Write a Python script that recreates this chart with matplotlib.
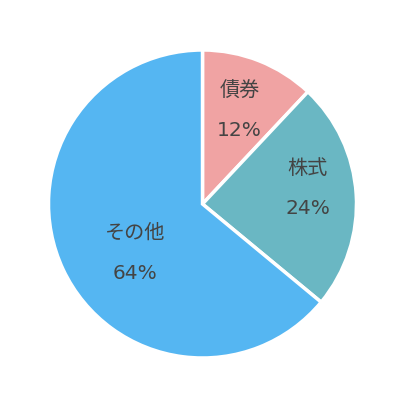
import numpy as np
import matplotlib
matplotlib.use("Agg")
import matplotlib.pyplot as plt

plt.rcParams['font.family'] = ['Noto Sans CJK JP', 'DejaVu Sans']

labels = ['債券', '株式', 'その他']
shares = [12, 24, 64]
colors = ['#F0A3A3', '#6AB7C3', '#55B6F2']

fig = plt.figure(figsize=(4.06, 4.13), dpi=100)
W, H = 406, 413
cx, cy, R = 202.5, 204, 154
ax = fig.add_axes([(cx - R) / W, (H - cy - R) / H, 2 * R / W, 2 * R / H])

wedges, _ = ax.pie(shares, colors=colors, startangle=90, counterclock=False,
                   wedgeprops=dict(edgecolor='white', linewidth=2.5))
ax.set_xlim(-1, 1)
ax.set_ylim(-1, 1)
ax.set_aspect('equal')
ax.axis('off')

# label placement: radius and angle nudge per wedge
label_r = [0.65, 0.69, 0.54]
angle_shift = [0, 5, 11]
for w, name, pct, r, da in zip(wedges, labels, shares, label_r, angle_shift):
    mid = np.deg2rad((w.theta1 + w.theta2) / 2 + da)
    x, y = r * np.cos(mid), r * np.sin(mid)
    ax.text(x, y + 0.13, name, ha='center', va='center', fontsize=14.5, color='#444444')
    ax.text(x, y - 0.13, f'{pct}%', ha='center', va='center', fontsize=14.5,
            color='#444444', family='DejaVu Sans')

fig.savefig('out.png', dpi=100)
